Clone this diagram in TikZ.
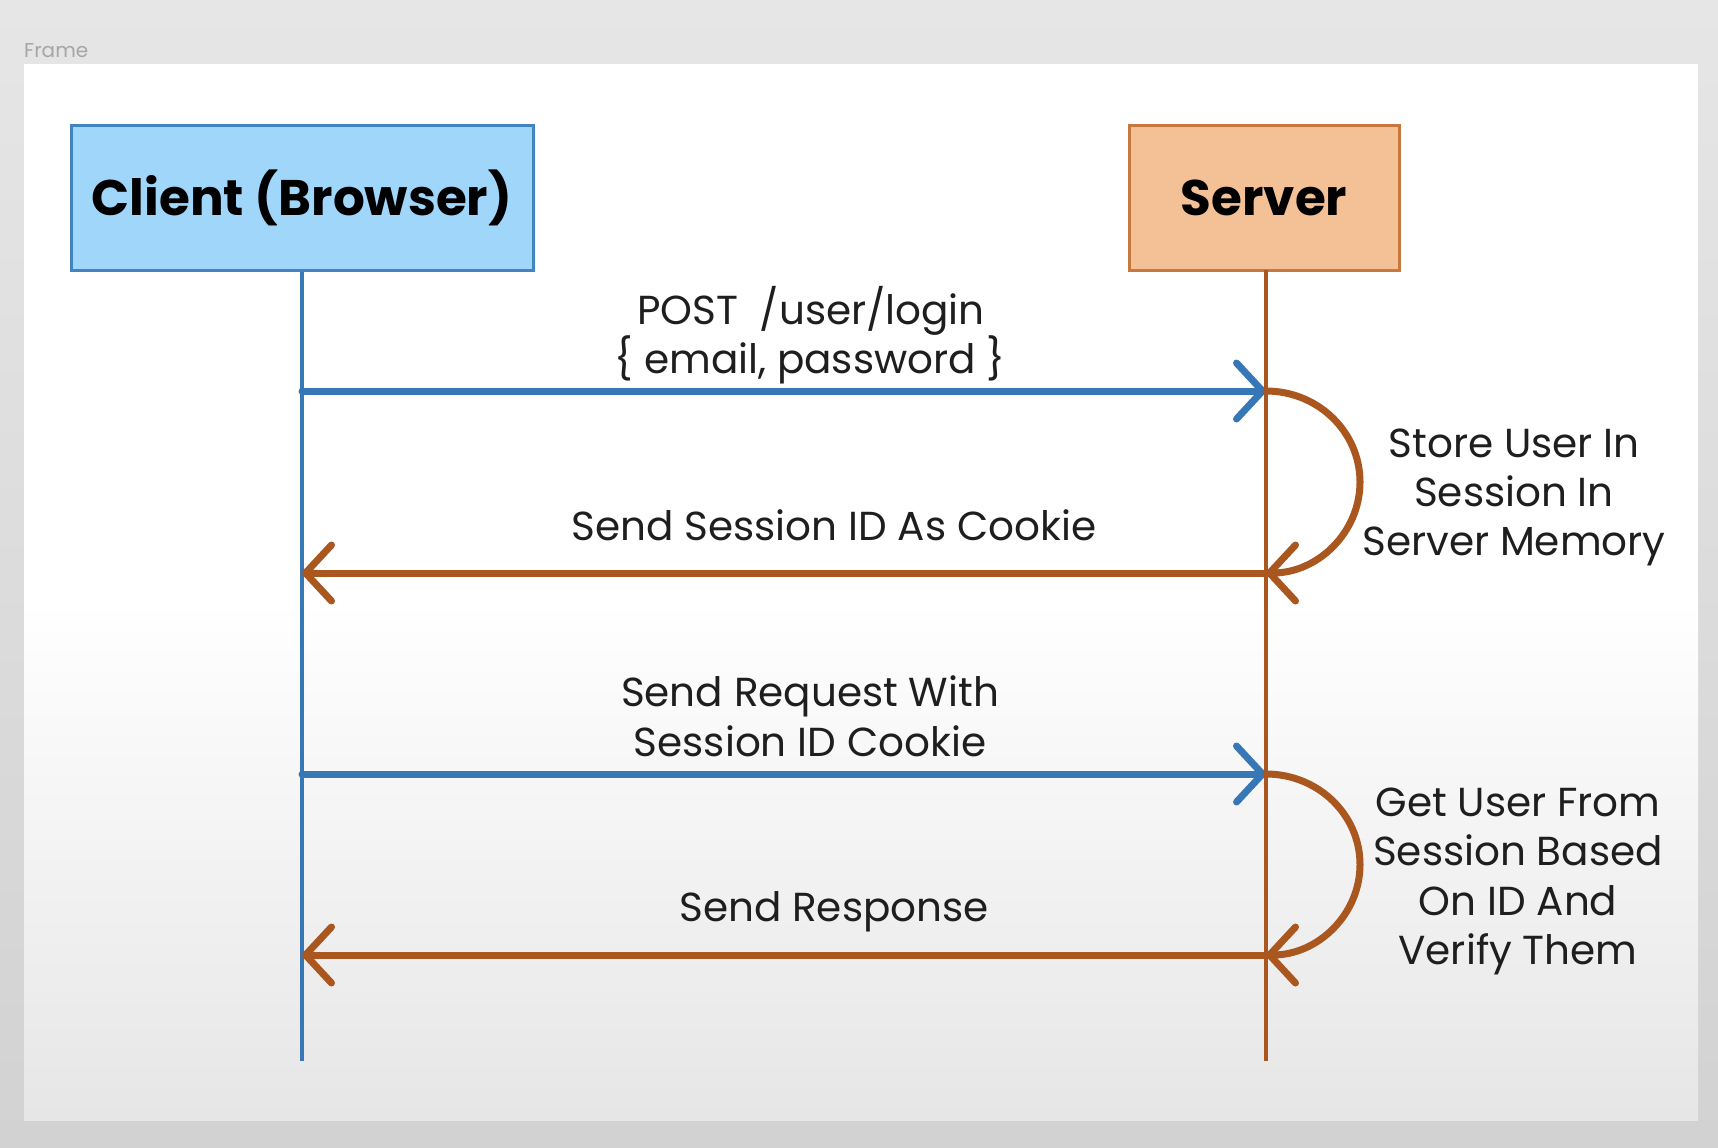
\documentclass[tikz,border=0pt]{standalone}
\usepackage{fontspec}
\setmainfont{Poppins}
\usetikzlibrary{arrows.meta}
\definecolor{bgtop}{HTML}{E6E6E6}
\definecolor{bgbot}{HTML}{D2D2D2}
\definecolor{framebot}{HTML}{E6E6E6}
\definecolor{clientfill}{HTML}{A0D6F9}
\definecolor{clientborder}{HTML}{4283C2}
\definecolor{serverfill}{HTML}{F4C197}
\definecolor{serverborder}{HTML}{C6783E}
\definecolor{lineblue}{HTML}{3777B5}
\definecolor{linebrown}{HTML}{A9561F}
\definecolor{txt}{HTML}{1E1E1E}
\begin{document}
\begin{tikzpicture}[x=1pt,y=-1pt,
  actor/.style={line width=3pt, inner sep=0pt, minimum height=145pt,
    font=\fontsize{50}{50}\selectfont\bfseries, text=black},
  life/.style={line width=4.5pt},
  msg/.style={line width=7pt, line cap=round,
    -{Straight Barb[length=26pt,width=56pt,round]}},
  lbl/.style={anchor=base, inner sep=0pt, text=txt, font=\fontsize{40.5}{40.5}\selectfont},
]
\useasboundingbox (0,0) rectangle (1718,1148);
\shade[top color=bgtop, bottom color=bgbot] (0,0) rectangle (1718,1148);
\fill[white] (24,64) rectangle (1698,600);
\shade[top color=white, bottom color=framebot] (24,599) rectangle (1698,1120);
\node[anchor=base west, inner sep=0pt, text=black!35, font=\fontsize{20}{20}\selectfont] (framelbl) at (24,57) {Frame};

\node[actor, draw=clientborder, fill=clientfill, minimum width=462pt] (client) at (302,197.5) {Client (Browser)};
\node[actor, draw=serverborder, fill=serverfill, minimum width=270pt] (server) at (1264,197.5) {Server};

\coordinate (cend) at (302,1061);
\coordinate (send) at (1266,1061);
\coordinate (stop) at (1266,270);
\draw[life, lineblue] (client.south) -- (cend);
\draw[life, linebrown] (stop) -- (send);

\coordinate (c1) at (302,391);  \coordinate (s1) at (1266,391);
\coordinate (c2) at (302,573);  \coordinate (s2) at (1266,573);
\coordinate (c3) at (302,774);  \coordinate (s3) at (1266,774);
\coordinate (c4) at (302,955);  \coordinate (s4) at (1266,955);

\draw[msg, lineblue] (c1) -- (s1);
\draw[msg, linebrown] (s1) arc[start angle=-90, end angle=90, x radius=94, y radius=91];
\draw[msg, linebrown] (s2) -- (c2);
\draw[msg, lineblue] (c3) -- (s3);
\draw[msg, linebrown] (s3) arc[start angle=-90, end angle=90, x radius=94, y radius=90.5];
\draw[msg, linebrown] (s4) -- (c4);

\node[lbl] (l1a) at (811,324) {POST\ \ /user/login};
\node[lbl] (l1b) at (810,373) {\{ email, password \}};
\node[lbl] (l2) at (834,540) {Send Session ID As Cookie};
\node[lbl] (l3a) at (810,706) {Send Request With};
\node[lbl] (l3b) at (810,756) {Session ID Cookie};
\node[lbl] (l4) at (834,921) {Send Response};

\node[lbl] (r1a) at (1514,457) {Store User In};
\node[lbl] (r1b) at (1514,506) {Session In};
\node[lbl] (r1c) at (1514,555) {Server Memory};

\node[lbl] (r2a) at (1518,816) {Get User From};
\node[lbl] (r2b) at (1518,865) {Session Based};
\node[lbl] (r2c) at (1518,915) {On ID And};
\node[lbl] (r2d) at (1518,964) {Verify Them};
\end{tikzpicture}
\end{document}
